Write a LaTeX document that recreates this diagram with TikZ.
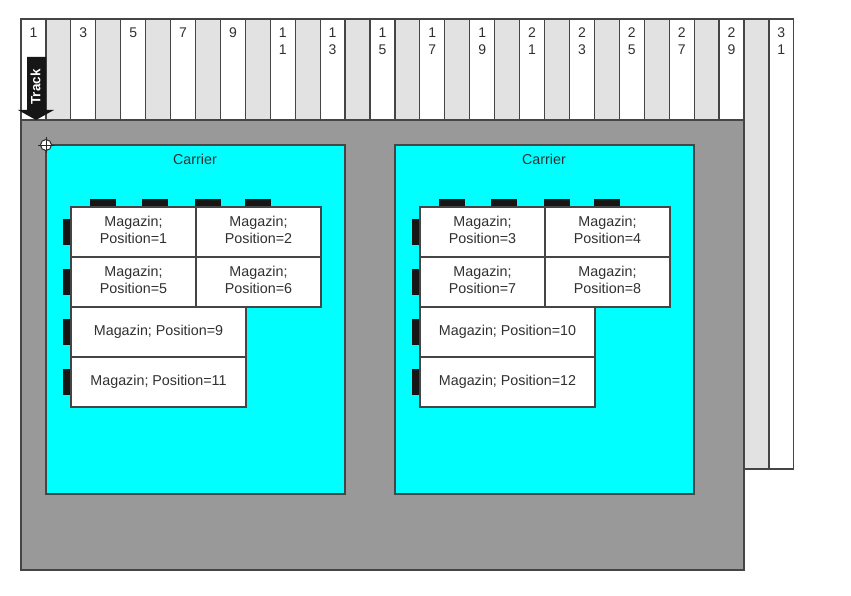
\documentclass[tikz,border=0pt]{standalone}
\usepackage{fontspec}
\setmainfont{Liberation Sans}
\usetikzlibrary{calc}
\definecolor{edgecol}{HTML}{454545}
\definecolor{slotgray}{HTML}{E2E2E2}
\definecolor{basegray}{HTML}{999999}
\definecolor{tabcol}{HTML}{161616}
\definecolor{labcol}{HTML}{303030}
\definecolor{carriercyan}{HTML}{00FFFF}
\newcommand{\magline}[1]{\raisebox{0.2pt}[0.72em][0.22em]{#1}}
\tikzset{
  x=1pt,y=-1pt,
  boxbase/.style={draw=edgecol,line width=1.2pt,inner sep=0pt,outer sep=0pt,anchor=north west,text=labcol,font=\fontsize{14.3}{17}\selectfont,align=center},
  trackodd/.style={boxbase,fill=white},
  trackeven/.style={boxbase,fill=slotgray},
  tracklab/.style={inner sep=0pt,anchor=north,text=labcol,font=\fontsize{14}{16.8}\selectfont,align=center},
  basebox/.style={boxbase,fill=basegray},
  carrierbox/.style={boxbase,fill=carriercyan,minimum width=299pt,minimum height=349pt},
  carrierlab/.style={inner sep=0pt,text=labcol,font=\fontsize{14.3}{16}\selectfont},
  magsmall/.style={boxbase,fill=white,minimum width=125pt,minimum height=50pt},
  magwide/.style={boxbase,fill=white,minimum width=175pt,minimum height=50pt},
  tabtop/.style={fill=tabcol,draw=none,inner sep=0pt,anchor=north west,minimum width=26pt,minimum height=8pt},
  tableft/.style={fill=tabcol,draw=none,inner sep=0pt,anchor=north west,minimum width=8pt,minimum height=26pt},
}
\newcommand{\trackbox}[4]{% index, style, height, label
  \node[#2,minimum width=24.93pt,minimum height=#3pt] (track#1) at ({21+(#1-1)*24.93},19) {};
  \node[tracklab] (tracklab#1) at ({21+(#1-0.5)*24.93},28) {#4};
}
\begin{document}
\begin{tikzpicture}
\useasboundingbox (0,0) rectangle (851,596);
\trackbox{1}{trackodd}{101}{1}
\trackbox{2}{trackeven}{101}{}
\trackbox{3}{trackodd}{101}{3}
\trackbox{4}{trackeven}{101}{}
\trackbox{5}{trackodd}{101}{5}
\trackbox{6}{trackeven}{101}{}
\trackbox{7}{trackodd}{101}{7}
\trackbox{8}{trackeven}{101}{}
\trackbox{9}{trackodd}{101}{9}
\trackbox{10}{trackeven}{101}{}
\trackbox{11}{trackodd}{101}{1\\1}
\trackbox{12}{trackeven}{101}{}
\trackbox{13}{trackodd}{101}{1\\3}
\trackbox{14}{trackeven}{101}{}
\trackbox{15}{trackodd}{101}{1\\5}
\trackbox{16}{trackeven}{101}{}
\trackbox{17}{trackodd}{101}{1\\7}
\trackbox{18}{trackeven}{101}{}
\trackbox{19}{trackodd}{101}{1\\9}
\trackbox{20}{trackeven}{101}{}
\trackbox{21}{trackodd}{101}{2\\1}
\trackbox{22}{trackeven}{101}{}
\trackbox{23}{trackodd}{101}{2\\3}
\trackbox{24}{trackeven}{101}{}
\trackbox{25}{trackodd}{101}{2\\5}
\trackbox{26}{trackeven}{101}{}
\trackbox{27}{trackodd}{101}{2\\7}
\trackbox{28}{trackeven}{101}{}
\trackbox{29}{trackodd}{101}{2\\9}
\trackbox{30}{trackeven}{450}{}
\trackbox{31}{trackodd}{450}{3\\1}
% base
\node[basebox,minimum width=723pt,minimum height=450pt] (base) at (21,120) {};
% track arrow
\fill[tabcol] (27,57) -- (46,57) -- (46,110) -- (54,110) -- (36,120) -- (18,110) -- (27,110) -- cycle;
\node[rotate=90,text=white,inner sep=0pt,font=\bfseries\fontsize{13.5}{14}\selectfont] (tracktext) at (35.5,87) {Track};
% carriers
\foreach \name/\ox in {carA/0,carB/349}{
  \node[carrierbox] (\name) at ({46+\ox},145) {};
  \node[carrierlab] (\name lab) at ({195+\ox},159.5) {Carrier};
  \foreach \tx/\tn in {90/a,142/b,195/c,245/d}
    \node[tabtop] (\name top\tn) at ({\tx+\ox},199) {};
  \foreach \ty/\tn in {219/a,269/b,319/c,369/d}
    \node[tableft] (\name left\tn) at ({63+\ox},\ty) {};
}
% magazines
\foreach \xx/\yy/\pp in {71/207/1,196/207/2,71/257/5,196/257/6,420/207/3,545/207/4,420/257/7,545/257/8}
  \node[magsmall] (mag\pp) at (\xx,\yy) {\magline{Magazin;}\\\magline{Position=\pp}};
\foreach \xx/\yy/\pp in {71/307/9,71/357/11,420/307/10,420/357/12}
  \node[magwide] (mag\pp) at (\xx,\yy) {\magline{Magazin; Position=\pp}};
% origin marker
\node[circle,draw=edgecol!60!black,line width=1pt,fill=white,minimum size=11pt,inner sep=0pt] (origin) at (46,145) {};
\draw[edgecol!60!black,line width=0.8pt] ($(origin.north)+(0,-2)$) -- ($(origin.south)+(0,2)$);
\draw[edgecol!60!black,line width=0.8pt] ($(origin.west)+(-2,0)$) -- ($(origin.east)+(2,0)$);
\end{tikzpicture}
\end{document}
